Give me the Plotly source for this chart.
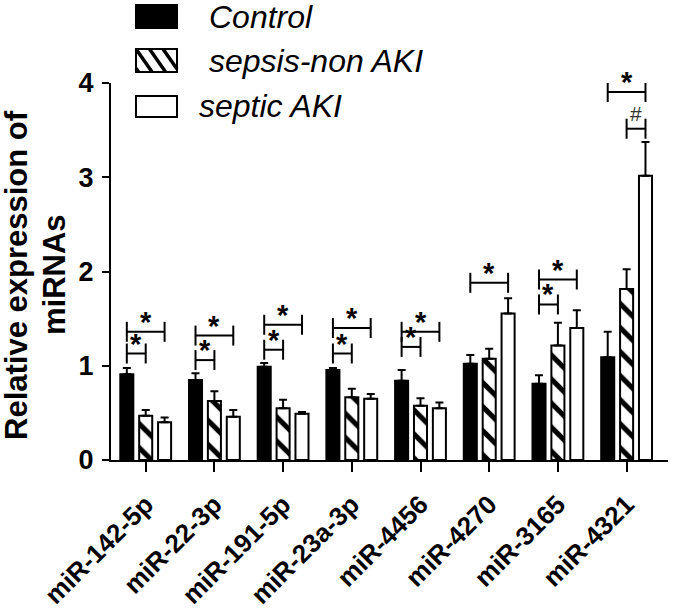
import plotly.graph_objects as go

# ---------------- data ----------------
categories = ["miR-142-5p", "miR-22-3p", "miR-191-5p", "miR-23a-3p",
              "miR-4456", "miR-4270", "miR-3165", "miR-4321"]
series_names = ["Control", "sepsis-non AKI", "septic AKI"]

control = [0.91, 0.85, 0.99, 0.955, 0.84, 1.02, 0.81, 1.09]
control_err = [0.065, 0.07, 0.04, 0.02, 0.115, 0.095, 0.09, 0.27]
sepsis = [0.47, 0.625, 0.55, 0.665, 0.575, 1.075, 1.215, 1.815]
sepsis_err = [0.06, 0.105, 0.09, 0.09, 0.08, 0.105, 0.24, 0.21]
aki = [0.40, 0.46, 0.49, 0.65, 0.55, 1.555, 1.40, 3.015]
aki_err = [0.05, 0.07, 0.02, 0.05, 0.06, 0.16, 0.19, 0.36]

y_ticks = [0, 1, 2, 3, 4]
y_title_lines = ["Relative expression of", "miRNAs"]

# significance brackets: (category index, from series, to series, y level, label)
sig_cat = [0, 0, 1, 1, 2, 2, 3, 3, 4, 4, 5, 6, 6, 7, 7]
sig_from = [0, 0, 0, 0, 0, 0, 0, 0, 0, 0, 0, 0, 0, 0, 1]
sig_to = [2, 1, 2, 1, 2, 1, 2, 1, 2, 1, 2, 2, 1, 2, 2]
sig_y = [1.36, 1.13, 1.32, 1.06, 1.435, 1.17, 1.40, 1.13, 1.36, 1.20,
         1.88, 1.915, 1.65, 3.905, 3.515]
sig_label = ["*"] * 14 + ["#"]

# ---------------- layout constants ----------------
W, H = 675, 610
PL, PR, PT, PB = 111, 668, 83, 460   # plot area in pixels
FONT = "Arial, Liberation Sans, sans-serif"
BARGAP = 0.175
BARGROUPGAP = 0.31
SLOT = (1 - BARGAP) / 3
x_idx = list(range(len(categories)))


def px2paper_x(px):
    return (px - PL) / (PR - PL)


def px2paper_y(py):
    return (PB - py) / (PB - PT)


fig = go.Figure()

vals = [control, sepsis, aki]
errs = [control_err, sepsis_err, aki_err]
for k in range(3):
    marker = dict(line=dict(color="black", width=2))
    if k == 0:
        marker["color"] = "black"
    elif k == 1:
        marker["color"] = "white"
        marker["pattern"] = dict(shape="\\", fgcolor="black", bgcolor="white",
                                 fgopacity=1, size=17, solidity=0.3,
                                 fillmode="replace")
    else:
        marker["color"] = "white"
    fig.add_trace(go.Bar(
        x=x_idx, y=vals[k], name=series_names[k], marker=marker,
        error_y=dict(type="data", symmetric=False, array=errs[k],
                     arrayminus=[0] * len(errs[k]), color="black",
                     thickness=2, width=4),
        showlegend=False,
    ))

# significance brackets
half_h = 10 / ((PB - PT) / 4)
for c, a, b, yv, lab in zip(sig_cat, sig_from, sig_to, sig_y, sig_label):
    xa = c + (a - 1) * SLOT
    xb = c + (b - 1) * SLOT
    line = dict(color="black", width=2)
    fig.add_shape(type="line", x0=xa, x1=xb, y0=yv, y1=yv, line=line)
    fig.add_shape(type="line", x0=xa, x1=xa, y0=yv - half_h, y1=yv + half_h, line=line)
    fig.add_shape(type="line", x0=xb, x1=xb, y0=yv - half_h, y1=yv + half_h, line=line)
    if lab == "*":
        fig.add_annotation(x=(xa + xb) / 2, y=yv, text="*", showarrow=False,
                           yanchor="middle", yshift=10,
                           font=dict(family=FONT, size=29, color="black", weight="bold"))
    else:
        fig.add_annotation(x=(xa + xb) / 2, y=yv, text="#", showarrow=False,
                           yanchor="bottom", yshift=2,
                           font=dict(family=FONT, size=21, color="#333333"))

# manual legend
leg_boxes = [(136, 177, 5, 28), (136, 177, 49, 72), (136, 177, 96, 117)]
leg_text_x = [207, 207, 197]
leg_text_y = [16.5, 61.5, 106.5]
for k, (x0, x1, y0, y1) in enumerate(leg_boxes):
    fig.add_shape(type="rect", xref="paper", yref="paper",
                  x0=px2paper_x(x0), x1=px2paper_x(x1),
                  y0=px2paper_y(y1), y1=px2paper_y(y0),
                  fillcolor="black" if k == 0 else "white",
                  line=dict(color="black", width=2))
    if k == 1:
        slope = 0.7  # dx per dy
        for start in [x0 - 13.5, x0, x0 + 13.5, x0 + 27, x0 + 40.5]:
            ya = max(y0, y0 + (x0 - start) / slope)
            yb = min(y1, y0 + (x1 - start) / slope)
            if yb - ya < 1:
                continue
            xa = start + slope * (ya - y0)
            xb = start + slope * (yb - y0)
            fig.add_shape(type="line", xref="paper", yref="paper",
                          x0=px2paper_x(xa), x1=px2paper_x(xb),
                          y0=px2paper_y(ya), y1=px2paper_y(yb),
                          line=dict(color="black", width=3.5))
    fig.add_annotation(xref="paper", yref="paper",
                       x=px2paper_x(leg_text_x[k]), y=px2paper_y(leg_text_y[k]),
                       text=series_names[k], showarrow=False,
                       xanchor="left", yanchor="middle",
                       font=dict(family=FONT, size=32, color="black", style="italic"))

# y-axis title as two rotated annotations
title_x = [16, 54]
for txt, tx in zip(y_title_lines, title_x):
    fig.add_annotation(xref="paper", yref="paper",
                       x=px2paper_x(tx), y=px2paper_y(275),
                       text=txt, showarrow=False,
                       textangle=-90, xanchor="center", yanchor="middle",
                       font=dict(family=FONT, size=31, color="black", weight="bold"))

cat_w = 68.7
x_lo = (PL - 145.7) / cat_w
x_hi = (PR - 145.7) / cat_w

fig.update_layout(
    width=W, height=H,
    margin=dict(l=PL, r=W - PR, t=PT, b=H - PB, autoexpand=False),
    paper_bgcolor="white", plot_bgcolor="white",
    barmode="group", bargap=BARGAP, bargroupgap=BARGROUPGAP,
    showlegend=False,
    font=dict(family=FONT, color="black"),
    xaxis=dict(range=[x_lo, x_hi], tickvals=x_idx, ticktext=categories,
               tickangle=-45, showgrid=False, zeroline=False,
               showline=True, linecolor="black", linewidth=2,
               ticks="outside", ticklen=10, tickwidth=2, tickcolor="black",
               ticklabelstandoff=7,
               tickfont=dict(family=FONT, size=26, color="black", weight="bold")),
    yaxis=dict(range=[0, 4], tickvals=y_ticks, showgrid=False, zeroline=False,
               showline=True, linecolor="black", linewidth=2,
               ticks="outside", ticklen=7, tickwidth=2, tickcolor="black",
               ticklabelstandoff=3,
               tickfont=dict(family=FONT, size=27, color="black", weight="bold")),
)

fig.write_html("out.html", config={"displayModeBar": False},
               post_script="document.body.style.margin='0';")
